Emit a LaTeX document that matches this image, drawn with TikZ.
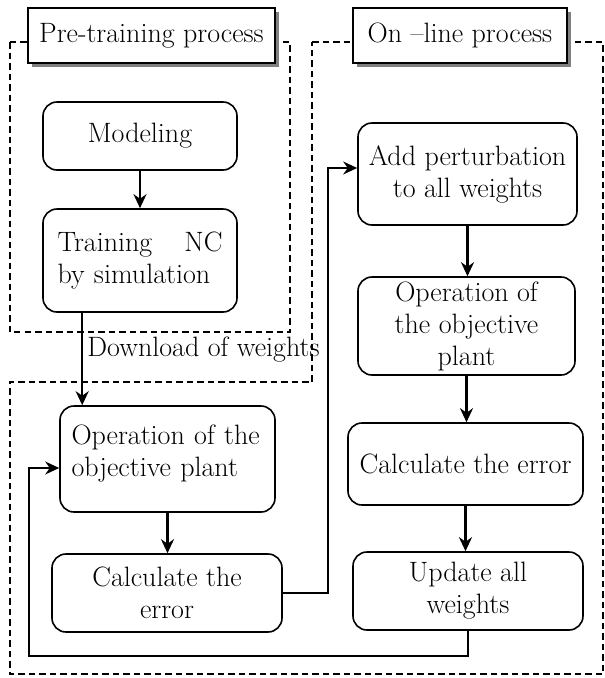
\documentclass[tikz,border=0pt]{standalone}
\usetikzlibrary{arrows.meta,shadows}
\begin{document}
\begin{tikzpicture}[x=1pt,y=-1pt,
  txt/.style={font=\fontsize{28}{32}\selectfont},
  stepbox/.style={txt,draw,line width=1.6pt,rounded corners=14pt,align=center,inner sep=2pt},
  titlebox/.style={txt,draw,line width=1.6pt,fill=white,inner sep=2pt,
    drop shadow={shadow xshift=4pt,shadow yshift=-4pt,fill=black!50,opacity=1}},
  region/.style={line width=2.4pt,dash pattern=on 6.5pt off 4pt},
  arr/.style={line width=2.4pt,-{Stealth[length=14pt,width=13pt]}},
  connarr/.style={line width=1.5pt,-{Stealth[length=14pt,width=13pt]}}]
\useasboundingbox (0,0) rectangle (605,678);
% dashed regions
\draw[region] (10,42) rectangle (290,332);
\draw[region] (312,42) -- (603,42) -- (603,674) -- (10,674) -- (10,382) -- (312,382) -- cycle;
% titles
\node[titlebox, minimum width=247pt, minimum height=55pt] (pre) at (151.5,35.5) {Pre-training process};
\node[titlebox, minimum width=214pt, minimum height=55pt] (onl) at (460,35.5) {On --line process};
% left column
\node[stepbox, minimum width=194pt, minimum height=68pt] (model) at (140,136) {Modeling};
\node[stepbox, minimum width=194pt, minimum height=103pt, text width=165pt, align=left] (train) at (140,260.5) {Training\hfill NC\\by simulation};
\node[stepbox, minimum width=215pt, minimum height=106pt, text width=192pt, align=left] (opL) at (167.5,459) {Operation of the\\objective plant\rule[-16pt]{0pt}{0pt}};
\node[stepbox, minimum width=230pt, minimum height=78pt] (calcL) at (167,593) {Calculate the\\error};
% right column
\node[stepbox, minimum width=219pt, minimum height=102pt] (addp) at (467.5,174) {Add perturbation\\to all weights};
\node[stepbox, minimum width=217pt, minimum height=98pt] (opR) at (466.5,326) {Operation of\\the objective\\plant};
\node[stepbox, minimum width=235pt, minimum height=82pt] (calcR) at (465.5,464) {Calculate the error};
\node[stepbox, minimum width=230pt, minimum height=78pt] (upd) at (468,591) {Update all\\weights};
% arrows
\draw[arr] (model) -- (model.south |- train.north);
\coordinate (d1) at ([xshift=40pt]train.south west);
\draw[arr] (d1) -- (d1 |- opL.north) node[pos=0.4, right, txt, inner sep=0pt, xshift=4pt] (dl) {Download of weights};
\draw[arr] (opL.south) -- (opL.south |- calcL.north);
\draw[arr] (addp.south) -- (addp.south |- opR.north);
\draw[arr] (opR.south) -- (opR.south |- calcR.north);
\draw[arr] (calcR.south) -- (calcR.south |- upd.north);
\draw[connarr] (calcL.east) -- ++(45,0) |- ([yshift=6pt]addp.west);
\coordinate (fb) at (29,656);
\draw[connarr] (upd.south) |- (fb) |- ([yshift=-9pt]opL.west);
\end{tikzpicture}
\end{document}
